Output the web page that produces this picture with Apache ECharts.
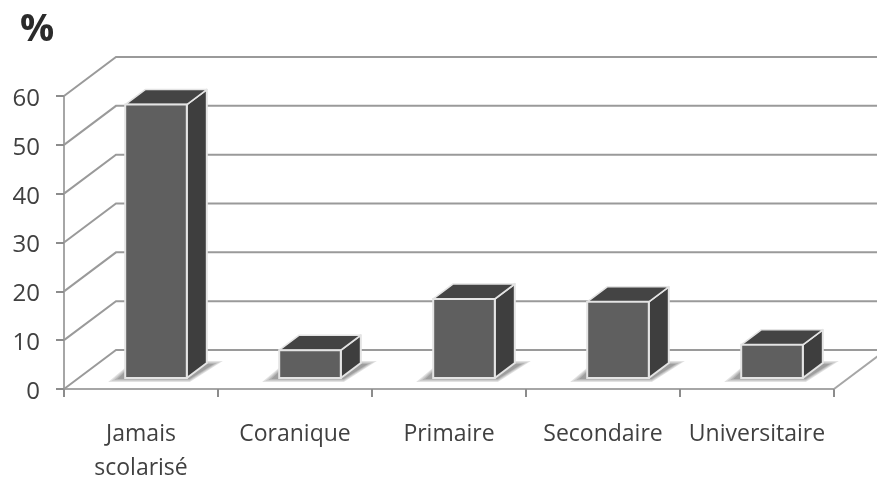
<!DOCTYPE html>
<html>
<head>
<meta charset="utf-8">
<title>Niveau d'instruction</title>
<style>
    html, body { margin: 0; padding: 0; background: #fff; }
    #chart { width: 877px; height: 477px; }
</style>
<script src="https://cdn.jsdelivr.net/npm/echarts@6/dist/echarts.min.js"></script>
</head>
<body>
<div id="chart"></div>
<script>
var categories = ['Jamais\nscolarisé', 'Coranique', 'Primaire', 'Secondaire', 'Universitaire'];
var percents = [56, 5.7, 16.2, 15.6, 6.8];
var yTicks = [0, 10, 20, 30, 40, 50, 60];

// fake 3d: depth of the wall and of a bar, in pixels
var wallDx = 52, wallDy = -39;
var barShiftX = 15, barShiftY = -11;
var barDx = 20, barDy = -15;

function poly(points, style) {
    return { type: 'polygon', shape: { points: points }, style: style };
}

function renderWall(params, api) {
    var band = api.size([1, 0])[0];
    var first = api.coord([0, api.value(0)]);
    var last = api.coord([categories.length - 1, api.value(0)]);
    var left = [first[0] - band / 2, first[1]];
    var right = [last[0] + band / 2, last[1]];
    var children = [{
        type: 'polyline',
        shape: { points: [left, [left[0] + wallDx, left[1] + wallDy], [right[0] + wallDx, right[1] + wallDy]] },
        style: { fill: 'none', stroke: '#9a9a9a', lineWidth: 2 }
    }];
    // floor edge on the right side
    if (api.value(0) === 0) {
        children.push({
            type: 'line',
            shape: { x1: right[0], y1: right[1], x2: right[0] + wallDx, y2: right[1] + wallDy },
            style: { stroke: '#a6a6a6', lineWidth: 2 }
        });
    }
    return { type: 'group', children: children };
}

function renderBar(params, api) {
    var top = api.coord([api.value(0), api.value(1)]);
    var base = api.coord([api.value(0), 0]);
    var w = api.size([1, 0])[0] * 0.4;
    var x0 = top[0] - w / 2 + barShiftX;
    var x1 = x0 + w;
    var yTop = top[1] + barShiftY;
    var yBase = base[1] + barShiftY;
    var edge = '#e4e4e4';
    var children = [];
    // floor shadow, soft edge made of stacked layers
    var shades = ['#e2e2e2', '#cdcdcd', '#b6b6b6', '#9e9e9e'];
    for (var i = 0; i < shades.length; i++) {
        var grow = (shades.length - 1 - i) * 2;
        children.push(poly([
            [x0 - 8 - grow * 1.5, yBase + 1 + grow / 2],
            [x1 + 3, yBase + 1 + grow / 2],
            [x1 + 27 + grow * 1.5, yBase - 14 - grow / 2],
            [x0 + 8, yBase - 14 - grow / 2]
        ], { fill: shades[i] }));
    }
    children.push(
        poly([[x1, yTop], [x1 + barDx, yTop + barDy], [x1 + barDx, yBase + barDy], [x1, yBase]], {
            fill: '#3e3e3e', stroke: edge, lineWidth: 2, lineJoin: 'round'
        }),
        poly([[x0, yTop], [x0 + barDx, yTop + barDy], [x1 + barDx, yTop + barDy], [x1, yTop]], {
            fill: '#444444', stroke: edge, lineWidth: 1.5, lineJoin: 'round'
        }),
        {
            type: 'rect',
            shape: { x: x0, y: yTop, width: w, height: yBase - yTop },
            style: { fill: '#5f5f5f', stroke: edge, lineWidth: 2 }
        }
    );
    return { type: 'group', children: children };
}

var myChart = echarts.init(document.getElementById('chart'));
var option = {
    backgroundColor: '#ffffff',
    animation: false,
    textStyle: { fontFamily: 'Open Sans' },
    title: {
        text: '%',
        left: 15,
        top: 6,
        textStyle: { fontFamily: 'Open Sans', fontSize: 38, fontWeight: 'bold', color: '#2b2b2b' }
    },
    grid: { left: 64, width: 770, top: 96, height: 293, outerBoundsMode: 'none' },
    xAxis: {
        type: 'category',
        data: categories,
        axisLine: { lineStyle: { color: '#a6a6a6', width: 2 } },
        axisTick: { show: true, alignWithLabel: false, length: 8, lineStyle: { color: '#8c8c8c', width: 2 } },
        axisLabel: { color: '#404040', fontFamily: 'Open Sans', fontSize: 23, margin: 28, lineHeight: 34, interval: 0 },
        splitLine: { show: false }
    },
    yAxis: {
        type: 'value',
        min: 0,
        max: 60,
        interval: 10,
        axisLine: { show: true, lineStyle: { color: '#a6a6a6', width: 2 } },
        axisTick: { show: true, length: 8, lineStyle: { color: '#8c8c8c', width: 2 } },
        axisLabel: { color: '#404040', fontFamily: 'Open Sans', fontSize: 24, margin: 24, verticalAlign: 'top', lineHeight: 6 },
        splitLine: { show: false }
    },
    series: [
        {
            type: 'custom',
            name: 'grille',
            renderItem: renderWall,
            clip: false,
            silent: true,
            z: 1,
            data: yTicks.map(function (t) { return [t]; })
        },
        {
            type: 'custom',
            name: '%',
            renderItem: renderBar,
            clip: false,
            z: 3,
            encode: { x: 0, y: 1 },
            data: percents.map(function (v, i) { return [i, v]; })
        }
    ]
};
myChart.setOption(option);
</script>
</body>
</html>
